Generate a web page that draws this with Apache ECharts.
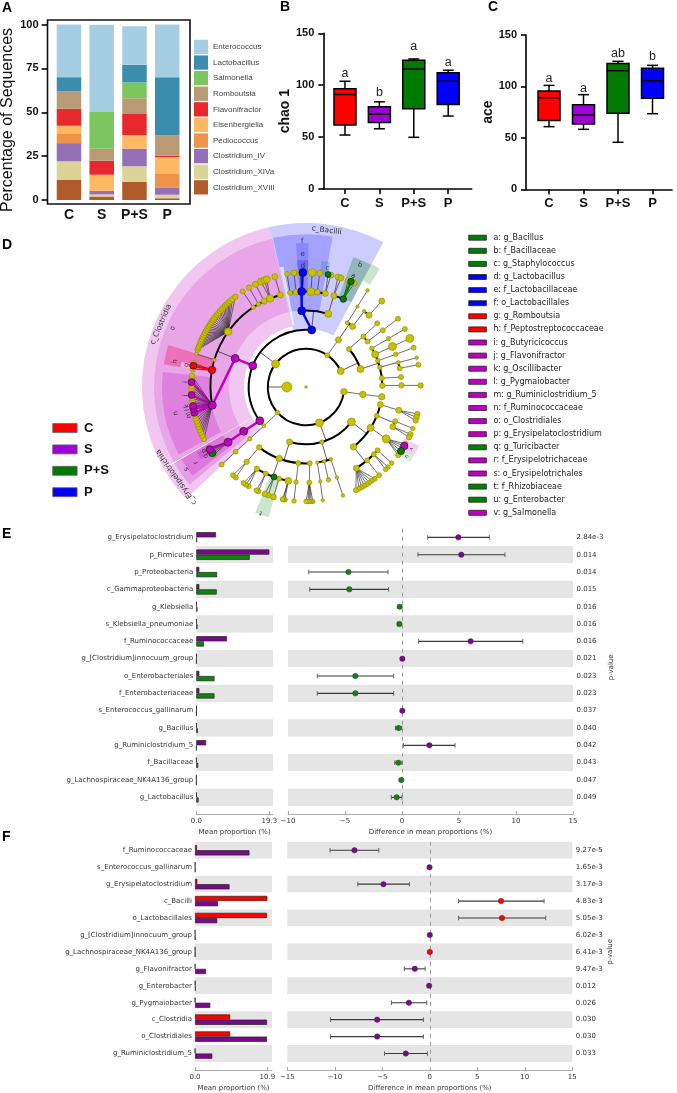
<!DOCTYPE html>
<html><head><meta charset="utf-8">
<style>html,body{margin:0;padding:0;background:#fff}#c{width:677px;height:1093px}</style>
<script src="https://cdn.jsdelivr.net/npm/echarts@6/dist/echarts.min.js"></script>
</head><body><div id="c"></div>
<script>
const SANS='"Liberation Sans",Arial,sans-serif', DV='"DejaVu Sans",sans-serif';
// ---------- Panel A
const groups=['C','S','P+S','P'];
const taxa=['Clostridium_XVIII','Clostridium_XIVa','Clostridium_IV','Pediococcus','Eisenbergiella','Flavonifractor','Romboutsia','Salmonella','Lactobacillus','Enterococcus'];
const taxaColors=['#b15a2a','#dcd497','#9570b6','#ee9349','#fdb863','#e7282d','#b89b74','#7cc660','#3c8dad','#a6cee3'];
const xviii=[11.4,2,10.3,1], xiva=[10.6,1.2,8.9,2], iv=[10.4,2,10.1,4.2], pedio=[5.6,0,0,8], eisen=[4.3,9.2,7.7,9.2];
const flavo=[9.7,8,12,0.9], rombo=[10,7,9,11.7], salm=[0,20.7,9,0], lacto=[8,0,10,33], entero=[30,49.7,22,30];
const taxaValues=[xviii,xiva,iv,pedio,eisen,flavo,rombo,salm,lacto,entero];
// ---------- Panels B, C  [min,Q1,median,Q3,max]
const boxColors=['#ff0000','#a000d8','#007a00','#0000ff'];
const chaoStats=[[52,61.7,91,96.7,103.8],[58,64,72,79.3,84],[49.8,77.4,115.6,124,125.3],[70.3,81.3,103.8,112,114.4]];
const chaoLetters=['a','b','a','a'], chaoLetterY=[110.8,92.8,137,122];
const aceStats=[[60.9,67,89,95.6,101],[58.3,63.5,72.2,82.3,92],[45.7,73.9,115.3,122.4,124.4],[73.5,88.4,105.6,117.6,120.5]];
const aceLetters=['a','a','ab','b'], aceLetterY=[107.9,98,131.5,129];
// ---------- Panel D : clade tree  [angle,size,class,children,mode]
const fanY=(list,s=5.5)=>list.map(a=>[a,s,'y']);
const cladeTree=[270,10,'y',[
 [97,6.5,'y',[[97.4,6.5,'y',[[97.3,6.5,'y']]]]],
 [159.4,8,'y',[
  [127.5,8,'y',[
   [103.3,6,'y',[[104.1,6,'y',fanY([103.6,105.3,107]),'fan']]],
   [112.1,5,'y',[[111,5,'y',[[111.2,4.5,'y']]],[114.6,6,'y',fanY([114.3,116]),'fan']]],
   [122.3,7,'y',[[122.9,8,'y',[[119.8,5,'y'],[121,7.5,'m'],[122.5,5,'y'],[124,7,'g'],[125.5,5,'y'],[126.5,5,'y']],'fan']]],
   [141.6,6.5,'y',[
    [131.5,5,'y',[[131.6,4.5,'y']]],[134.8,5,'y',fanY([134.3,136],4.5),'fan'],
    [140.2,5,'y',[[140.4,5,'y']]],[148.2,6,'y',fanY([143.2,145,146.5,148,149.5,151,152.5,154.2],5),'fan']]]]],
  [164,4.5,'y',[
   [161,3.5,'y',[[161.2,3.5,'y',[[161.2,3.5,'y']]]]],
   [166.3,3.5,'y',[[166.4,4.5,'y']]],
   [171.5,3.5,'y',[[171.4,3.5,'y',[[171.6,3.5,'y']]]]]]],
  [196.7,6,'y',[
   [177.2,5,'y',[[178,5,'y',fanY([176.6,177.4,178.3,179,180],4.5),'fan']]],
   [185.8,5,'y',[[186,4.5,'y',[[186,4.5,'y']]]]],
   [200.5,6.5,'y',[
    [190.7,7,'y',fanY([190.6,191.4,191.8],5),'fan'],[196.4,5,'y',[[196.5,6,'y']]],
    [199.6,6,'g',fanY([199.2,201],5.5),'fan'],[205,5,'y',fanY([204.5,205.6],5),'fan'],
    [211,5.5,'y',fanY([210,211.6,213],5),'fan']]],
   [217.8,5.5,'y',[[218.4,5.5,'y',fanY([217.8,219.6],5),'fan']]]]]]],
 [227.8,4.5,'y',[[227.3,4,'y',[[227.3,4.5,'y',[[227.4,5,'y',[[227.4,5,'y']]]]]]]]],
 [307.2,8,'y',[
  [233.8,8,'m',[[234.6,8,'m',[[234.7,8,'m',[[233.7,5,'y'],[234.9,7.5,'g'],[236,5,'y'],[237,7.5,'m'],[238,5,'y']],'fan']]]]],
  [291.8,8,'m',[[292,8,'m',[
   [259,8,'m',[[243,5.5,'y'],[245,5.5,'y'],[246.5,5.5,'y'],[248,5.5,'y'],[249.5,5.5,'y'],[251,5.5,'y'],[252.5,5.5,'y'],[254,5.5,'y'],[255.5,5.5,'y'],[257,7,'m'],[259,7,'m'],[260.5,7,'m'],[262,5.5,'y'],[263,5.5,'y'],[264.5,5.5,'y'],[266,7,'m'],[267.5,5.5,'y'],[269,5.5,'y'],[270.5,5.5,'y'],[272.4,7,'m'],[274,5.5,'y'],[275.6,5.5,'y']],'fan'],
   [280.3,7.5,'r',[[279,5.5,'y'],[282,5.5,'y'],[280.7,7,'r']],'fan'],
   [286.5,3.5,'y',[[286.8,3.5,'y']]],
   [305.4,7.5,'y',fanY([289,290,291,292.2,293.4,294.6,295.8,297,298.2,299.4,300.6,301.8,303,304.2,305.4,306.6,307.8,309,310.2,311.4,312.6,313.8,315,316.2,317.4,318.6,320,321.9]),'fan'],
   [326.5,4.5,'y',[[326.5,5,'y']]],[330.2,4.5,'y',[[330.2,5.5,'y']]],[334,6,'y',[[333.8,6,'y']]],
   [337.9,7.5,'y',fanY([336.9,338.7,340],7),'fan'],[344.4,6,'y',[[344.2,6,'y']]]]]]],
  [365.7,8,'b',[
   [356.8,8,'b',[
    [350.4,5,'y',[[350.5,5,'y']]],[354,6,'y',[[354,6,'y']]],
    [357.4,8,'b',[[357,6,'y'],[358.4,8,'b']],'fan'],
    [363,8,'y',[[363.1,8,'y']]],[366.8,6,'y',[[366.9,6,'y']]],
    [371.7,6,'y',[[372.6,6,'y'],[371.1,6,'g']],'fan']]],
   [376.9,7,'y',[
    [377,6,'y',fanY([376.2,377.8],6),'fan'],
    [383,6.5,'g',[[381.6,5.5,'y'],[385,5.5,'y'],[383.1,6.5,'g']],'fan']]]]]]],
 [393.9,5,'y',[[394.5,6,'y',[
   [392.7,4,'y',[[392.6,3.5,'y',[[392.5,3.5,'y']]]]],
   [397.6,6,'y',[[397.5,3.5,'y'],[401.3,6,'y',[[401.4,6,'y']]]]]]]]],
 [425.2,7,'y',[
  [408.5,5,'y',[[408.7,5,'y',[[408.2,5,'y']]],[413.5,5,'y',[[413.5,5,'y',[[413.4,5,'y']]]]]]],
  [431.8,7,'y',[
   [419.6,4.5,'y',[[419.6,4.5,'y',[[419.6,5,'y']]]]],
   [424.7,7,'y',[[424.9,8,'y',[[424.9,8,'y']]]]],
   [429.9,4.5,'y',[[430,4.5,'y',[[429.9,5,'y']]]]],
   [435,4.5,'y',[[435.2,4,'y',[[435.2,3.5,'y']]],[438.7,5,'y',[[438.8,5,'y']]]]],
   [443.4,5,'y',[[444,5,'y']]],
   [449,5.5,'y',[[449,5.5,'y',[[449.2,5.5,'y']]]]]]]]]
]];
const cladeColors={y:'#c8c000',m:'#c000c0',r:'#ff0000',b:'#0000ff',g:'#008000'};
const M='rgba(190,0,190,', B='rgba(0,0,255,', G='rgba(0,128,0,';
const cladeSectors=[ // fill, inner level, outer level, start angle, end angle
 [M+'.22)',3.25,8.59,240.3,347.2],[M+'.17)',4.03,7.96,240.3,347.2],[M+'.22)',5.03,7.54,242,276],
 ['rgba(255,0,90,.32)',5.03,7.54,279,287],['rgba(255,255,255,.45)',6.02,6.65,279,281.5],
 [M+'.22)',3.25,8.59,227,240],[M+'.2)',4.03,7.96,230,240],[M+'.25)',5.03,7.54,232,240],[M+'.25)',6.02,6.65,235.5,239],
 [B+'.2)',3.05,8.59,347.2,388.1],[B+'.2)',4.03,8,347.5,370],[B+'.17)',5.03,7.54,356,361],[B+'.22)',6.02,6.65,356,361],
 ['rgba(255,255,255,.65)',3.3,6.4,347.6,349.4],['rgba(0,110,130,.2)',6.02,6.65,367,371],
 [G+'.28)',5.03,7.25,380,388],[G+'.2)',6.3,7.3,388,392],[G+'.2)',5.03,7.1,196,202],
 [M+'.18)',5.8,6.7,117.5,123],[G+'.15)',5.8,6.7,123,126]];
const cladeLabels=[['c_Clostridia',8.27,293.4,7.5],['c_Bacilli',8.27,7.5,7.5],['c_Erysipelotrichia',8.27,235.2,7.5],
 ['a',6.32,23,7],['b',6.98,23.9,7],['c',6.32,10.2,7],['d',6.35,358.5,7],['e',6.96,358.5,7],['f',7.64,358.5,7],
 ['g',6.35,280.4,7],['h',6.98,281,7],['i',6.32,272.4,6.5],['j',6.32,266,6.5],['k',6.32,261,6.5],['l',6.32,259,6.5],['m',6.32,256.5,6.5],
 ['n',6.96,258.6,7],['o',7.63,293.8,7],['p',6.3,238,6.5],['q',6.36,235.4,6.5],['r',6.99,235.5,6.5],['s',7.6,235.4,6.5],
 ['t',7,199.8,6.5],['u',6.4,124.5,5],['v',6.4,120.5,5]];
const lefseNames=['a: g_Bacillus','b: f_Bacillaceae','c: g_Staphylococcus','d: g_Lactobacillus','e: f_Lactobacillaceae','f: o_Lactobacillales','g: g_Romboutsia','h: f_Peptostreptococcaceae','i: g_Butyricicoccus','j: g_Flavonifractor','k: g_Oscillibacter','l: g_Pygmaiobacter','m: g_Ruminiclostridium_5','n: f_Ruminococcaceae','o: o_Clostridiales','p: g_Erysipelatoclostridium','q: g_Turicibacter','r: f_Erysipelotrichaceae','s: o_Erysipelotrichales','t: f_Rhizobiaceae','u: g_Enterobacter','v: g_Salmonella'];
const lefseClass=['g','g','g','b','b','b','r','r','m','m','m','m','m','m','m','m','g','m','m','g','g','m'];
const groupLegendColors=['#ff0000','#a000d8','#007a00','#0000ff'];
// ---------- Panel E
const eTaxa=['g_Erysipelatoclostridium','p_Firmicutes','p_Proteobacteria','c_Gammaproteobacteria','g_Klebsiella','s_Klebsiella_pneumoniae','f_Ruminococcaceae','g_[Clostridium]innocuum_group','o_Enterobacteriales','f_Enterobacteriaceae','s_Enterococcus_gallinarum','g_Bacillus','g_Ruminiclostridium_5','f_Bacillaceae','g_Lachnospiraceae_NK4A136_group','g_Lactobacillus'];
const eS=[5.2,19.3,0.8,0.8,0.1,0.1,8.1,0.1,0.8,0.8,0.1,0.1,2.6,0.05,0.05,0.1];
const ePS=[0.2,14.1,5.5,5.4,0.3,0.3,2,0.05,4.8,4.8,0.05,0.4,0.05,0.5,0.05,0.6];
const eDiff=[4.94,5.2,-4.7,-4.62,-0.2,-0.23,6.02,0.03,-4.09,-4.09,0.03,-0.3,2.4,-0.32,-0.06,-0.47];
const eLow=[2.25,1.4,-8.18,-8.1,-0.35,-0.4,1.46,0,-7.43,-7.43,0,-0.58,0.12,-0.64,-0.1,-0.94];
const eHigh=[7.66,9.03,-1.23,-1.17,-0.08,-0.08,10.6,0.06,-0.73,-0.73,0.06,-0.02,4.65,0,0,0];
const eColor=['m','m','g','g','g','g','m','m','g','g','m','g','m','g','g','g'];
const eP=['2.84e-3','0.014','0.014','0.015','0.016','0.016','0.016','0.021','0.023','0.023','0.037','0.040','0.042','0.043','0.047','0.049'];
// ---------- Panel F
const fTaxa=['f_Ruminococcaceae','s_Enterococcus_gallinarum','g_Erysipelatoclostridium','c_Bacilli','o_Lactobacillales','g_[Clostridium]innocuum_group','g_Lachnospiraceae_NK4A136_group','g_Flavonifractor','g_Enterobacter','g_Pygmaiobacter','c_Clostridia','o_Clostridiales','g_Ruminiclostridium_5'];
const fC=[0.3,0.03,0.35,10.9,10.85,0.03,0.03,0.02,0.05,0.02,5.3,5.3,0.02];
const fS=[8.2,0.05,5.2,3.45,3.35,0.05,0.03,1.65,0.1,2.3,10.85,10.85,2.6];
const fDiff=[-7.93,-0.03,-4.88,7.5,7.6,0,0,-1.58,-0.07,-2.2,-5.54,-5.54,-2.53];
const fLow=[-10.5,-0.05,-7.58,3.02,3.02,-0.03,-0.03,-2.67,-0.12,-4.03,-10.46,-10.46,-4.77];
const fHigh=[-5.37,0,-2.14,12.03,12.2,0.03,0.03,-0.49,-0.02,-0.32,-0.67,-0.67,-0.25];
const fColor=['m','m','m','r','r','m','r','m','m','m','m','m','m'];
const fP=['9.27e-5','1.65e-3','3.17e-3','4.83e-3','5.05e-3','6.02e-3','6.41e-3','9.47e-3','0.012','0.026','0.030','0.030','0.033'];
const propColors={m:'#7a0a8c',g:'#0f840f',r:'#ff0000'};

// ---------- flatten the clade tree
const nodes=[[0,0,2.5,'y']], edges=[];
(function walk(n,level){
 const [a,s,c,kids,mode]=n;
 nodes.push([level,((a%360)+360)%360,s,c]);
 if(!kids)return;
 const hasArc=kids.length>1&&mode!=='fan';
 if(hasArc){
  const as=kids.map(k=>k[0]).concat(a);
  edges.push({t:'line',l1:level,a1:a,l2:level+1,a2:a,c:'#333',w:.8});
  edges.push({t:'arc',l:level+1,a0:Math.min(...as),a1:Math.max(...as),c:'#000',w:level>=5?1.6:2});
 }
 kids.forEach(k=>{
  const colored=c!=='y'&&k[2]===c;
  if(!hasArc||colored) edges.push({t:'line',l1:level,a1:a,l2:level+1,a2:k[0],c:colored?cladeColors[c]:'#333',w:colored?2.4:.7});
  walk(k,level+1);
 });
})(cladeTree,1);
nodes.sort((p,q)=>(p[3]==='y'?0:1)-(q[3]==='y'?0:1));

// ---------- helpers
const axisBold={fontFamily:SANS,fontWeight:'bold',color:'#111'};
function boxSeries(i,stats,letters,letterY){
 return [{type:'custom',xAxisIndex:i,yAxisIndex:i,z:3,data:stats.map((s,k)=>[k,...s]),encode:{x:0,y:[1,2,3,4,5]},
  renderItem(p,api){
   const x=api.value(0),k=p.dataIndex,pt=v=>api.coord([x,v]),c=pt(api.value(3))[0],w=11,cap=5.5;
   const yMin=pt(api.value(1))[1],q1=pt(api.value(2))[1],med=pt(api.value(3))[1],q3=pt(api.value(4))[1],yMax=pt(api.value(5))[1];
   const ln=(x1,y1,x2,y2)=>({type:'line',shape:{x1,y1,x2,y2},style:{stroke:'#000',lineWidth:1.5}});
   return {type:'group',children:[ln(c,yMin,c,q1),ln(c,q3,c,yMax),ln(c-cap,yMin,c+cap,yMin),ln(c-cap,yMax,c+cap,yMax),
    {type:'rect',shape:{x:c-w,y:q3,width:2*w,height:q1-q3},style:{fill:boxColors[k],stroke:'#000',lineWidth:1.5}},ln(c-w,med,c+w,med)]};
  }},
  {type:'scatter',xAxisIndex:i,yAxisIndex:i,symbolSize:1,itemStyle:{color:'transparent',opacity:1},z:4,data:letterY.map((v,k)=>[k,v]),
   label:{show:true,position:'inside',formatter:p=>letters[p.dataIndex],fontFamily:SANS,fontSize:12.5,color:'#222',opacity:1}}];
}
function barAxis(gi,max,ticks,taxaList,bandColors){
 return {
  x:{type:'value',gridIndex:gi,min:0,max,offset:8,splitLine:{show:false},axisLine:{show:true,lineStyle:{color:'#aaa',width:1}},
   axisTick:{show:true,inside:true,length:3,lineStyle:{color:'#aaa'},customValues:ticks},
   axisLabel:{customValues:ticks,formatter:v=>v.toFixed(1),fontFamily:DV,fontSize:7,color:'#333',margin:3.5},
   name:'Mean proportion (%)',nameLocation:'middle',nameGap:15,nameTextStyle:{fontFamily:DV,fontSize:7,color:'#333'}},
  y:{type:'category',gridIndex:gi,data:taxaList,inverse:true,axisLine:{show:false},axisTick:{show:false},
   axisLabel:{fontFamily:DV,fontSize:7,color:'#333',margin:3,interval:0},
   splitArea:{show:true,interval:0,areaStyle:{color:bandColors}},splitLine:{show:false}}
 };
}
function diffAxis(gi,min,max,pvals,bandColors){
 return {
  x:{type:'value',gridIndex:gi,min,max,interval:5,offset:8,splitLine:{show:false},axisLine:{show:true,lineStyle:{color:'#aaa',width:1}},
   axisTick:{show:true,inside:true,length:3,lineStyle:{color:'#aaa'}},
   axisLabel:{formatter:v=>String(v).replace('-','\u2212'),fontFamily:DV,fontSize:7,color:'#333',margin:3.5},
   name:'Difference in mean proportions (%)',nameLocation:'middle',nameGap:15,nameTextStyle:{fontFamily:DV,fontSize:7,color:'#333'}},
  y:{type:'category',gridIndex:gi,data:pvals,inverse:true,position:'right',axisLine:{show:false},axisTick:{show:false},
   axisLabel:{fontFamily:DV,fontSize:7,color:'#333',margin:3.5,interval:0},
   splitArea:{show:true,interval:0,areaStyle:{color:bandColors}},splitLine:{show:false},
   name:'p-value',nameLocation:'middle',nameRotate:90,nameGap:33,nameTextStyle:{fontFamily:DV,fontSize:7,color:'#333'}}
 };
}
function barSeries(i,name,vals,color){
 return {type:'bar',name,xAxisIndex:i,yAxisIndex:i,data:vals,barWidth:5.2,barGap:0,z:3,
  itemStyle:{color,borderColor:'#222',borderWidth:.7}};
}
function diffSeries(i,diff,low,high,cols){
 return [{type:'custom',xAxisIndex:i,yAxisIndex:i,z:3,data:low.map((l,k)=>[l,high[k],k]),encode:{x:[0,1],y:2},
  renderItem(p,api){
   const k=api.value(2),a=api.coord([api.value(0),k]),b=api.coord([api.value(1),k]);
   const l=(x1,y1,x2,y2,s,w)=>({type:'line',shape:{x1,y1,x2,y2},style:{stroke:s,lineWidth:w}});
   return {type:'group',children:[l(a[0],a[1],b[0],b[1],'#3a3a3a',1.1),l(a[0],a[1]-2.3,a[0],a[1]+2.3,'#666',1),l(b[0],b[1]-2.3,b[0],b[1]+2.3,'#666',1)]};
  }},
  {type:'scatter',xAxisIndex:i,yAxisIndex:i,z:4,symbolSize:5.5,
   data:diff.map((v,k)=>({value:[v,k],itemStyle:{color:propColors[cols[k]],borderColor:'#333',borderWidth:.4,opacity:1}})),
   markLine:{silent:true,symbol:'none',label:{show:false},z:2,data:[{xAxis:0}],lineStyle:{color:'#9a9a9a',type:[4,4],width:1}}}];
}
const eL=barAxis(3,20.24,[0,19.3],eTaxa,['#fff','#e5e5e5']), eR=diffAxis(4,-10,15,eP,['#fff','#e5e5e5']);
const fL=barAxis(5,11.6,[0,10.9],fTaxa,['#e5e5e5','#fff']), fR=diffAxis(6,-15,15,fP,['#e5e5e5','#fff']);
function boxAxes(gi,min,max,name,gap){
 return {
  x:{type:'value',gridIndex:gi,min,max,splitLine:{show:false},axisLine:{show:true,lineStyle:{color:'#000',width:1.6}},
   axisTick:{show:true,length:5,lineStyle:{color:'#000',width:1.6},customValues:[0,1,2,3]},
   axisLabel:{customValues:[0,1,2,3],formatter:v=>groups[v],...axisBold,fontSize:13,margin:8}},
  y:{type:'value',gridIndex:gi,min:0,max:150,interval:50,splitLine:{show:false},axisLine:{show:true,onZero:false,lineStyle:{color:'#000',width:1.6}},
   axisTick:{show:true,length:5,lineStyle:{color:'#000',width:1.6}},axisLabel:{...axisBold,fontSize:11,margin:9},
   name,nameLocation:'middle',nameGap:gap,nameTextStyle:{...axisBold,fontSize:14}}
 };
}
const bA=boxAxes(1,-0.63,3.683,'chao 1',28), cA=boxAxes(2,-0.667,3.565,'ace',25);
const letter=(text,left,top)=>({text,left,top,padding:0,textStyle:{fontFamily:SANS,fontWeight:'bold',fontSize:14,color:'#000'}});

const option={animation:false,backgroundColor:'#fff',
 title:[letter('A',2,1),letter('B',280,0),letter('C',488,0),letter('D',2,238),letter('E',2,527),letter('F',2,830)],
 grid:[
  {left:52.6,top:24.5,width:131,height:175.5},
  {left:323.3,top:33.3,width:148.4,height:155.7},
  {left:526,top:35,width:146,height:154.3},
  {left:196.3,top:528.7,width:76.6,height:277.3},
  {left:288,top:528.7,width:285,height:277.3},
  {left:195,top:841.8,width:77,height:221.8},
  {left:287.3,top:841.8,width:285,height:221.8}],
 polar:{center:[306,387],radius:[0,171.9]},
 radiusAxis:{min:0,max:9,show:false},
 angleAxis:{min:0,max:360,startAngle:90,show:false},
 xAxis:[
  {type:'category',gridIndex:0,data:groups,offset:4,axisLine:{show:false},axisTick:{show:false},axisLabel:{...axisBold,fontSize:14,margin:4,interval:0}},
  bA.x,cA.x,eL.x,eR.x,fL.x,fR.x],
 yAxis:[
  {type:'value',gridIndex:0,min:0,max:100,interval:25,offset:5,splitLine:{show:false},axisLine:{show:false},
   axisTick:{show:true,length:6,lineStyle:{color:'#000',width:1.6}},axisLabel:{...axisBold,fontSize:11,margin:9}},
  bA.y,cA.y,eL.y,eR.y,fL.y,fR.y],
 legend:[
  {left:194,top:39.8,padding:0,orient:'vertical',itemWidth:14,itemHeight:14.3,itemGap:1.3,selectedMode:false,
   data:taxa.slice().reverse().map(n=>({name:n,icon:'rect'})),textStyle:{fontFamily:SANS,fontSize:8,color:'#444'}},
  {left:52.3,top:421.5,padding:0,orient:'vertical',itemWidth:24.4,itemHeight:9,itemGap:8.4,selectedMode:false,
   data:groups.map((n,k)=>({name:n,icon:'rect',itemStyle:{color:groupLegendColors[k],borderColor:'#666',borderWidth:.8,opacity:1}})),
   textStyle:{fontFamily:SANS,fontSize:13,lineHeight:13,fontWeight:'bold',color:'#111',padding:[0,0,0,2]}},
  {left:468.3,top:232.7,padding:0,orient:'vertical',itemWidth:17.7,itemHeight:5,itemGap:3.1,selectedMode:false,
   data:lefseNames.map((n,k)=>({name:n,icon:'rect',itemStyle:{color:cladeColors[lefseClass[k]],borderColor:'#222',borderWidth:.8,opacity:1}})),
   textStyle:{fontFamily:DV,fontSize:8,lineHeight:10,color:'#222',padding:[0,0,0,2]}}],
 graphic:[
  {type:'rect',shape:{x:47.5,y:20,width:142.5,height:184},style:{fill:'none',stroke:'#111',lineWidth:1.6},silent:true,z:10},
  {type:'text',x:8,y:120,rotation:Math.PI/2,style:{text:'Percentage of Sequences',fontFamily:SANS,fontSize:16,fill:'#111',align:'center',verticalAlign:'middle'},silent:true}],
 series:[
  ...taxa.map((n,k)=>({type:'bar',name:n,stack:'a',xAxisIndex:0,yAxisIndex:0,barWidth:24.5,data:taxaValues[k],itemStyle:{color:taxaColors[k]}})),
  ...boxSeries(1,chaoStats,chaoLetters,chaoLetterY),
  ...boxSeries(2,aceStats,aceLetters,aceLetterY),
  // legend-only entries
  ...groups.map((n,k)=>({type:'scatter',name:n,xAxisIndex:0,yAxisIndex:0,data:[],itemStyle:{color:groupLegendColors[k]}})),
  ...lefseNames.map((n,k)=>({type:'scatter',name:n,xAxisIndex:0,yAxisIndex:0,data:[],itemStyle:{color:cladeColors[lefseClass[k]]}})),
  // cladogram
  {type:'custom',coordinateSystem:'polar',z:1,data:cladeSectors.map(s=>[s[2],s[3]]),encode:{radius:0,angle:1},
   renderItem(p,api){
    const s=cladeSectors[p.dataIndex],cs=p.coordSys,u=Math.hypot(api.coord([1,0])[0]-cs.cx,api.coord([1,0])[1]-cs.cy),toA=d=>(d-90)*Math.PI/180;
    return {type:'sector',shape:{cx:cs.cx,cy:cs.cy,r0:s[1]*u,r:s[2]*u,startAngle:toA(s[3]),endAngle:toA(s[4]),clockwise:true},style:{fill:s[0]}};
   }},
  {type:'custom',coordinateSystem:'polar',z:2,data:edges.map(e=>e.t==='line'?[e.l1,e.a1]:[e.l,e.a0]),encode:{radius:0,angle:1},
   renderItem(p,api){
    const e=edges[p.dataIndex],cs=p.coordSys,toA=d=>(d-90)*Math.PI/180;
    if(e.t==='line'){const a=api.coord([e.l1,e.a1]),b=api.coord([e.l2,e.a2]);
     return {type:'line',shape:{x1:a[0],y1:a[1],x2:b[0],y2:b[1]},style:{stroke:e.c,lineWidth:e.w}};}
    const q=api.coord([e.l,0]),r=Math.hypot(q[0]-cs.cx,q[1]-cs.cy);
    return {type:'arc',shape:{cx:cs.cx,cy:cs.cy,r,startAngle:toA(e.a0),endAngle:toA(e.a1),clockwise:true},style:{stroke:e.c,lineWidth:e.w,fill:'none'}};
   }},
  {type:'scatter',coordinateSystem:'polar',z:3,encode:{radius:0,angle:1},symbolSize:v=>v[2],
   data:nodes.map(n=>({value:n,itemStyle:{color:cladeColors[n[3]],borderColor:n[3]==='y'?'#8f8a00':'#111',borderWidth:.6,opacity:1}}))},
  {type:'custom',coordinateSystem:'polar',z:4,data:cladeLabels.map(l=>[l[1],l[2]]),encode:{radius:0,angle:1},
   renderItem(p,api){
    const l=cladeLabels[p.dataIndex],pt=api.coord([l[1],l[2]]);
    return {type:'text',x:pt[0],y:pt[1],rotation:-l[2]*Math.PI/180,style:{text:l[0],fontFamily:DV,fontSize:l[3],fill:'#333',align:'center',verticalAlign:'middle'}};
   }},
  // panel E
  barSeries(3,'S mean E',eS,propColors.m),barSeries(3,'P+S mean E',ePS,propColors.g),
  ...diffSeries(4,eDiff,eLow,eHigh,eColor),
  // panel F
  barSeries(5,'C mean F',fC,propColors.r),barSeries(5,'S mean F',fS,propColors.m),
  ...diffSeries(6,fDiff,fLow,fHigh,fColor)
 ]};
echarts.init(document.getElementById('c'),null,{renderer:'canvas'}).setOption(option);
</script></body></html>
